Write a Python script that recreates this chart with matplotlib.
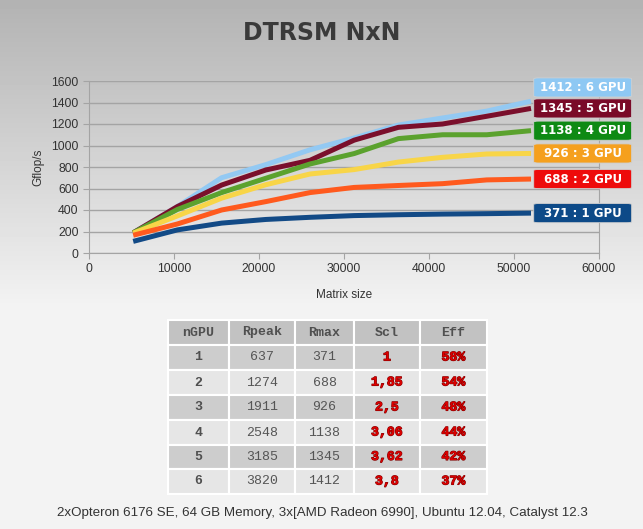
import numpy as np
import matplotlib
matplotlib.use("Agg")
from matplotlib import pyplot as plt
from matplotlib.patches import FancyBboxPatch, Rectangle
from matplotlib import patheffects as pe
import matplotlib.transforms as mtransforms

# matrix sizes (N) and measured Gflop/s per GPU count
matrix_size = [5200, 10400, 15600, 20800, 26000, 31200, 36400, 41600, 46800, 52000]
gflops_1gpu = [108, 215, 278, 312, 332, 348, 356, 362, 366, 371]
gflops_2gpu = [165, 270, 400, 478, 562, 610, 628, 645, 680, 688]
gflops_3gpu = [185, 345, 510, 635, 735, 776, 846, 890, 921, 926]
gflops_4gpu = [188, 405, 562, 695, 828, 925, 1064, 1100, 1100, 1138]
gflops_5gpu = [188, 432, 632, 772, 862, 1050, 1169, 1200, 1272, 1345]
gflops_6gpu = [188, 432, 700, 822, 960, 1070, 1190, 1256, 1320, 1412]

gpu_labels = ["1 GPU", "2 GPU", "3 GPU", "4 GPU", "5 GPU", "6 GPU"]
line_colors = ["#124a86", "#ff5a1e", "#f8d548", "#5ba22e", "#7a0f2c", "#93c9f3"]
box_colors = ["#0d4a88", "#ee0b0b", "#f5a01e", "#0e8a14", "#7a0a28", "#8ec8f3"]

# table data
tbl_cols = ["nGPU", "Rpeak", "Rmax", "Scl", "Eff"]
tbl_ngpu = ["1", "2", "3", "4", "5", "6"]
tbl_rpeak = ["637", "1274", "1911", "2548", "3185", "3820"]
tbl_rmax = ["371", "688", "926", "1138", "1345", "1412"]
tbl_scl = ["1", "1,85", "2,5", "3,06", "3,62", "3,8"]
tbl_eff = ["58%", "54%", "48%", "44%", "42%", "37%"]

footer = "2xOpteron 6176 SE, 64 GB Memory, 3x[AMD Radeon 6990], Ubuntu 12.04, Catalyst 12.3"

W, H = 643, 529
fig = plt.figure(figsize=(W / 100, H / 100), dpi=100)

# background gradient + table live on a full-figure pixel axes
bg = fig.add_axes([0, 0, 1, 1], zorder=-10)
rows = np.arange(H)
shade = np.where(rows < 310, 0.70 + (0.955 - 0.70) * rows / 310, 0.957)
grad = np.repeat(shade[:, None], 2, axis=1)
bg.imshow(grad, cmap="gray", vmin=0, vmax=1, extent=[0, W, H, 0], aspect="auto")
bg.set_xlim(0, W)
bg.set_ylim(H, 0)
bg.axis("off")

fig.text(0.5, 1 - 33 / H, "DTRSM NxN", ha="center", va="center",
         fontsize=17, fontweight="bold", color="#3a3a3a", family="DejaVu Sans")

# main chart
ax = fig.add_axes([89 / W, 1 - 253 / H, 510 / W, 172 / H])
ax.patch.set_alpha(0)
series = [gflops_1gpu, gflops_2gpu, gflops_3gpu, gflops_4gpu, gflops_5gpu, gflops_6gpu]
for i in range(5, -1, -1):
    ax.plot(matrix_size, series[i], color=line_colors[i], lw=3.6,
            solid_capstyle="butt", solid_joinstyle="round", zorder=3 + (5 - i))
ax.set_xlim(0, 60000)
ax.set_ylim(0, 1600)
ax.set_xticks(range(0, 60001, 10000))
ax.set_yticks(range(0, 1601, 200))
ax.yaxis.grid(True, color="#a4a4a4", lw=1)
ax.set_axisbelow(True)
for s in ["left", "bottom", "right"]:
    ax.spines[s].set_color("#a4a4a4")
ax.spines["top"].set_visible(False)
ax.tick_params(colors="#a4a4a4", length=4, labelcolor="#333333", labelsize=8.8)
for lab in ax.get_xticklabels() + ax.get_yticklabels():
    lab.set_family("Liberation Sans")
ax.set_xlabel("Matrix size", fontsize=8.5, color="#333333", family="Liberation Sans", labelpad=10)
ax.set_ylabel("Gflop/s", fontsize=8.5, color="#333333", family="Liberation Sans", labelpad=5)

# value labels at the end of each line, spread so they don't overlap
trans = mtransforms.blended_transform_factory(ax.transAxes, ax.transData)
label_y = []
prev = -1e9
for s in series:
    y = max(s[-1], prev + 195)
    label_y.append(y)
    prev = y
box_h = 178
for i, s in enumerate(series):
    y = label_y[i]
    box = FancyBboxPatch((0.872, y - box_h / 2), 0.192, box_h,
                         boxstyle="round,pad=0,rounding_size=0.01",
                         transform=trans, facecolor=box_colors[i],
                         edgecolor="#d0d0d0", lw=0.6, clip_on=False, zorder=10,
                         mutation_aspect=900)
    ax.add_patch(box)
    ax.text(0.968, y, f"{s[-1]} : {gpu_labels[i]}", transform=trans,
            ha="center", va="center", color="white", fontsize=8.5,
            fontweight="bold", family="DejaVu Sans", clip_on=False, zorder=11)

# table
col_edges = [168, 229, 295, 354, 420, 487]
row_edges = [320, 345, 370, 395, 420, 445, 469, 494]
table_cols = [tbl_ngpu, tbl_rpeak, tbl_rmax, tbl_scl, tbl_eff]
for r in range(len(row_edges) - 1):
    y0, y1 = row_edges[r], row_edges[r + 1]
    if r == 0:
        fc = "#c2c2c2"
    elif r % 2 == 1:
        fc = "#cdcdcd"
    else:
        fc = "#e6e6e6"
    for c in range(len(col_edges) - 1):
        x0, x1 = col_edges[c], col_edges[c + 1]
        bg.add_patch(Rectangle((x0, y0), x1 - x0, y1 - y0, facecolor=fc,
                               edgecolor="white", lw=1.5))
        cx, cy = (x0 + x1) / 2, (y0 + y1) / 2
        if r == 0:
            bg.text(cx, cy, tbl_cols[c], ha="center", va="center", fontsize=9.5,
                    fontweight="bold", color="#505050", family="Liberation Mono")
            continue
        val = table_cols[c][r - 1]
        if c == 0:
            bg.text(cx, cy, val, ha="center", va="center", fontsize=9.5,
                    fontweight="bold", color="#505050", family="Liberation Mono")
        elif c < 3:
            bg.text(cx, cy, val, ha="center", va="center", fontsize=9.5,
                    color="#555555", family="Liberation Mono")
        else:
            bg.text(cx, cy, val, ha="center", va="center", fontsize=9.5,
                    fontweight="bold", color="#dd0000", family="Liberation Mono",
                    path_effects=[pe.withStroke(linewidth=0.8, foreground="#800000")])

bg.text(W / 2 + 0.5, 513, footer, ha="center", va="center", fontsize=9.6,
        color="#333333", family="Liberation Sans")

fig.savefig("out.png", dpi=100)
